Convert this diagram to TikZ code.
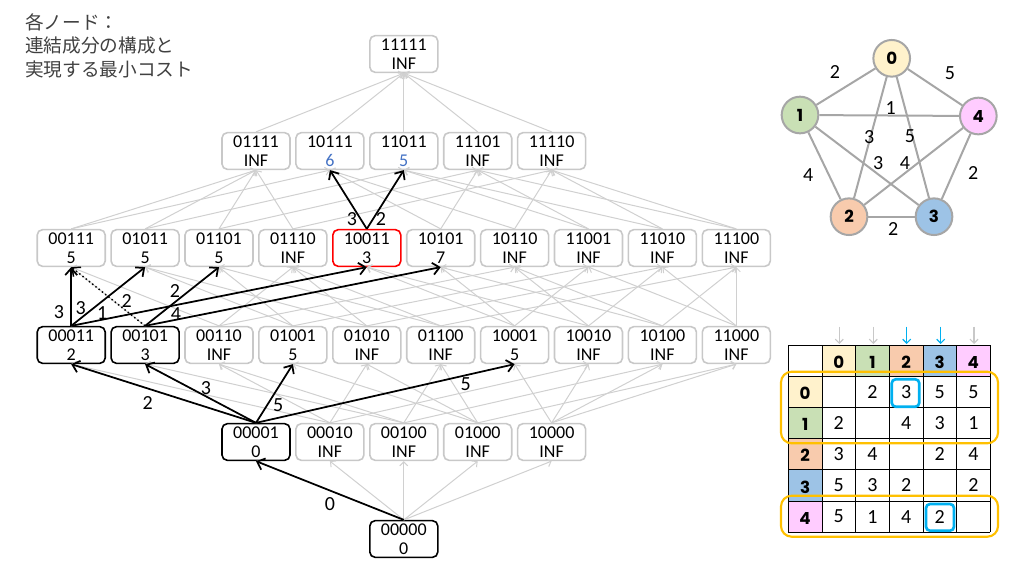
\documentclass[tikz,border=0pt]{standalone}
\usepackage{fontspec}
\setmainfont{Carlito}
\newfontfamily\jpfont{Noto Sans CJK JP}
\newfontfamily\circfont{Poppins}
\usetikzlibrary{arrows.meta}
\definecolor{boxgray}{HTML}{C8C8C8}
\definecolor{edgegray}{HTML}{D0D0D0}
\definecolor{cgray}{HTML}{A6A6A6}
\definecolor{cz}{HTML}{FFF2CC}
\definecolor{co}{HTML}{C9E0B5}
\definecolor{ct}{HTML}{F8CBAD}
\definecolor{cth}{HTML}{9DC3E6}
\definecolor{cf}{HTML}{FFCCFF}
\definecolor{valblue}{HTML}{4472C4}
\definecolor{selblue}{HTML}{00B0F0}
\definecolor{gold}{HTML}{FFC000}
\definecolor{textdark}{HTML}{404040}
\begin{document}
\begin{tikzpicture}[x=0.75pt,y=-0.75pt,
  box/.style={draw=boxgray, line width=1.2pt, rounded corners=4pt, minimum width=51pt, minimum height=27.5pt, inner sep=0pt, align=center, font=\fontsize{13.5}{14.5}\selectfont},
  hlbox/.style={box, draw=black},
  redbox/.style={box, draw=red},
  garr/.style={draw=edgegray, line width=0.75pt, -{Straight Barb[length=3pt,width=6pt]}},
  barr/.style={draw=black, line width=1.3pt, -{Straight Barb[length=5pt,width=9pt]}},
  darr/.style={draw=black, line width=1.1pt, dotted, -{Straight Barb[length=5pt,width=9pt]}},
  lbl/.style={font=\fontsize{15}{15}\selectfont, inner sep=0pt},
  gnode/.style={circle, draw=cgray, line width=1.5pt, minimum size=27.5pt, inner sep=0pt, font=\circfont\bfseries\fontsize{12.5}{12.5}\selectfont},
  gedge/.style={draw=cgray, line width=1.5pt},
  hdr/.style={font=\circfont\bfseries\fontsize{12.5}{12.5}\selectfont, inner sep=0pt},
  val/.style={font=\fontsize{15}{15}\selectfont, inner sep=0pt},
  colarr/.style={line width=0.9pt, -{Straight Barb[length=3pt,width=6pt]}}
]
\useasboundingbox (0,0) rectangle (1024,576);

% title
\node[anchor=north west, align=left, inner sep=0pt, font=\jpfont\fontsize{14}{17.6}\selectfont, text=textdark] (title) at (25,13) {各ノード：\\連結成分の構成と\\実現する最小コスト};

% lattice nodes
\node[hlbox] (n00000) at (403.8,539) {00000\\0};
\node[hlbox] (n00001) at (256,442) {00001\\0};
\node[box] (n00010) at (329.9,442) {00010\\INF};
\node[box] (n00100) at (403.8,442) {00100\\INF};
\node[box] (n01000) at (477.7,442) {01000\\INF};
\node[box] (n10000) at (551.6,442) {10000\\INF};

\node[hlbox] (n00011) at (71.2,345) {00011\\2};
\node[hlbox] (n00101) at (145.1,345) {00101\\3};
\node[box] (n00110) at (219,345) {00110\\INF};
\node[box] (n01001) at (292.9,345) {01001\\5};
\node[box] (n01010) at (366.8,345) {01010\\INF};
\node[box] (n01100) at (440.7,345) {01100\\INF};
\node[box] (n10001) at (514.6,345) {10001\\5};
\node[box] (n10010) at (588.5,345) {10010\\INF};
\node[box] (n10100) at (662.4,345) {10100\\INF};
\node[box] (n11000) at (736.3,345) {11000\\INF};

\node[box] (n00111) at (71.2,248) {00111\\5};
\node[box] (n01011) at (145.1,248) {01011\\5};
\node[box] (n01101) at (219,248) {01101\\5};
\node[box] (n01110) at (292.9,248) {01110\\INF};
\node[redbox] (n10011) at (366.8,248) {10011\\3};
\node[box] (n10101) at (440.7,248) {10101\\7};
\node[box] (n10110) at (514.6,248) {10110\\INF};
\node[box] (n11001) at (588.5,248) {11001\\INF};
\node[box] (n11010) at (662.4,248) {11010\\INF};
\node[box] (n11100) at (736.3,248) {11100\\INF};

\node[box] (n01111) at (256,151) {01111\\INF};
\node[box] (n10111) at (329.9,151) {10111\\\textcolor{valblue}{6}};
\node[box] (n11011) at (403.8,151) {11011\\\textcolor{valblue}{5}};
\node[box] (n11101) at (477.7,151) {11101\\INF};
\node[box] (n11110) at (551.6,151) {11110\\INF};

\node[box] (n11111) at (403.8,54) {11111\\INF};

% gray edges
\foreach \a/\b in {00000/00001,00000/00010,00000/00100,00000/01000,00000/10000,
  00001/00011,00001/00101,00001/01001,00001/10001,
  00010/00011,00010/00110,00010/01010,00010/10010,
  00100/00101,00100/00110,00100/01100,00100/10100,
  01000/01001,01000/01010,01000/01100,01000/11000,
  10000/10001,10000/10010,10000/10100,10000/11000,
  00011/00111,00011/01011,00011/10011,
  00101/00111,00101/01101,00101/10101,
  00110/00111,00110/01110,00110/10110,
  01001/01011,01001/01101,01001/11001,
  01010/01011,01010/01110,01010/11010,
  01100/01101,01100/01110,01100/11100,
  10001/10011,10001/10101,10001/11001,
  10010/10011,10010/10110,10010/11010,
  10100/10101,10100/10110,10100/11100,
  11000/11001,11000/11010,11000/11100,
  00111/01111,00111/10111,01011/01111,01011/11011,
  01101/01111,01101/11101,01110/01111,01110/11110,
  10011/10111,10011/11011,10101/10111,10101/11101,
  10110/10111,10110/11110,11001/11011,11001/11101,
  11010/11011,11010/11110,11100/11101,11100/11110,
  01111/11111,10111/11111,11011/11111,11101/11111,11110/11111}
  \draw[garr] (n\a.north) -- (n\b.south);

% black edges
\draw[barr] (n00000.north) -- (n00001.south);
\draw[barr] (n00001.north) -- (n00011.south);
\draw[barr] (n00001.north) -- (n00101.south);
\draw[barr] (n00001.north) -- (n01001.south);
\draw[barr] (n00001.north) -- (n10001.south);
\draw[barr] (n00011.north) -- (n00111.south);
\draw[barr] (n00011.north) -- (n01011.south);
\draw[barr] (n00011.north) -- (n10011.south);
\draw[darr] (n00101.north) -- (n00111.south);
\draw[barr] (n00101.north) -- (n01101.south);
\draw[barr] (n00101.north) -- (n10101.south);
\draw[barr] (n10011.north) -- (n10111.south);
\draw[barr] (n10011.north) -- (n11011.south);

% edge labels
\node[lbl] (l1) at (330,504) {0};
\node[lbl] (l2) at (147.7,402.7) {2};
\node[lbl] (l3) at (206,388.3) {3};
\node[lbl] (l4) at (278.3,405) {5};
\node[lbl] (l5) at (465.7,384) {5};
\node[lbl] (l6) at (59,311.7) {3};
\node[lbl] (l7) at (80.7,308.3) {3};
\node[lbl] (l8) at (102.3,312.7) {1};
\node[lbl] (l9) at (126.7,301) {2};
\node[lbl] (l10) at (175,291) {2};
\node[lbl] (l11) at (176,314.3) {4};
\node[lbl] (l12) at (352,219.5) {3};
\node[lbl] (l13) at (381,219.5) {2};

% graph
\node[gnode, fill=cz] (g0) at (891.7,58.3) {0};
\node[gnode, fill=co] (g1) at (800,115) {1};
\node[gnode, fill=cf] (g4) at (978.3,116) {4};
\node[gnode, fill=ct] (g2) at (849,216.7) {2};
\node[gnode, fill=cth] (g3) at (934,216.7) {3};
\draw[gedge] (g0) -- (g1);
\draw[gedge] (g0) -- (g4);
\draw[gedge] (g1) -- (g4);
\draw[gedge] (g0) -- (g2);
\draw[gedge] (g0) -- (g3);
\draw[gedge] (g1) -- (g3);
\draw[gedge] (g2) -- (g4);
\draw[gedge] (g1) -- (g2);
\draw[gedge] (g4) -- (g3);
\draw[gedge] (g2) -- (g3);
\node[lbl] (e01) at (835,71.7) {2};
\node[lbl] (e04) at (950,72.7) {5};
\node[lbl] (e14) at (890.7,108.3) {1};
\node[lbl] (e02) at (869.3,137.3) {3};
\node[lbl] (e03) at (910,136) {5};
\node[lbl] (e13) at (878.3,163.3) {3};
\node[lbl] (e24) at (905,163.3) {4};
\node[lbl] (e12) at (808.3,175) {4};
\node[lbl] (e43) at (973.3,173.3) {2};
\node[lbl] (e23) at (893.3,229) {2};

% table
\def\tx{788.3}\def\ty{345}\def\cw{33.65}\def\ch{31.2}
\foreach \c [count=\k] in {cz,co,ct,cth,cf} {
  \fill[\c] ({\tx+\k*\cw},\ty) rectangle ({\tx+(\k+1)*\cw},{\ty+\ch});
  \fill[\c] (\tx,{\ty+\k*\ch}) rectangle ({\tx+\cw},{\ty+(\k+1)*\ch});
}
\foreach \i in {0,...,6} {
  \draw[black, line width=0.6pt] ({\tx+\i*\cw},\ty) -- ({\tx+\i*\cw},{\ty+6*\ch});
  \draw[black, line width=0.6pt] (\tx,{\ty+\i*\ch}) -- ({\tx+6*\cw},{\ty+\i*\ch});
}
\foreach \d [count=\k] in {0,1,2,3,4} {
  \node[hdr] at ({\tx+(\k+0.5)*\cw},{\ty+0.55*\ch}) {\d};
  \node[hdr] at ({\tx+0.5*\cw},{\ty+(\k+0.55)*\ch}) {\d};
}
\foreach \row [count=\i] in {{,2,3,5,5},{2,,4,3,1},{3,4,,2,4},{5,3,2,,2},{5,1,4,2,}} {
  \foreach \v [count=\j] in \row {
    \node[val] at ({\tx+(\j+0.5)*\cw},{\ty+(\i+0.5)*\ch}) {\v};
  }
}
% highlights
\draw[gold, line width=1.6pt, rounded corners=8pt] (781,371.7) rectangle (998,443.3);
\draw[gold, line width=1.6pt, rounded corners=8pt] (781,495.7) rectangle (998,536.7);
\draw[selblue, line width=2pt, rounded corners=3pt] (891.7,379.3) rectangle (919.3,406.7);
\draw[selblue, line width=2pt, rounded corners=3pt] (926,504) rectangle (954,530.7);
% column arrows
\draw[colarr, draw=boxgray] (839.3,326.7) -- (839.3,344);
\draw[colarr, draw=boxgray] (873.3,326.7) -- (873.3,344);
\draw[colarr, draw=selblue] (906.7,326.7) -- (906.7,344);
\draw[colarr, draw=selblue] (940.7,326.7) -- (940.7,344);
\draw[colarr, draw=boxgray] (974,326.7) -- (974,344);
\end{tikzpicture}
\end{document}
